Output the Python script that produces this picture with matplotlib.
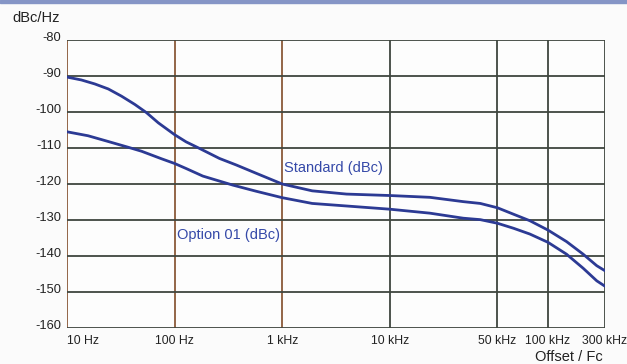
import numpy as np
import matplotlib
matplotlib.use("Agg")
import matplotlib.pyplot as plt
from matplotlib.patches import Rectangle
from matplotlib.transforms import ScaledTranslation

plt.rcParams['font.family'] = ['Liberation Sans', 'DejaVu Sans']

# tick frequencies (Hz) and their labels; the axis is a stretched log axis
tick_freqs = [10, 100, 1000, 10000, 50000, 100000, 300000]
tick_labels = ['10 Hz', '100 Hz', '1 kHz', '10 kHz', '50 kHz', '100 kHz', '300 kHz']
tick_pos = [0, 1, 2, 3, 4, 4.47, 5]
y_ticks = [-80, -90, -100, -110, -120, -130, -140, -150, -160]

# phase noise curves
std_freq = [10, 13.6, 18.1, 24.2, 32.1, 42.7, 54.9, 70.5, 100, 128, 170, 261, 373,
            571, 1000, 1900, 3960, 10000, 18200, 30000, 38700, 50000, 62400,
            78000, 100000, 143000, 197000, 256000, 300000]
std_dbc = [-90.3, -91.1, -92.2, -93.6, -95.6, -97.9, -100.2, -103.0, -106.3, -108.3,
           -110.1, -112.9, -114.7, -117, -120, -121.9, -122.8, -123.2, -123.7,
           -124.9, -125.4, -126.6, -128.4, -130.2, -132.8, -136, -139.5, -142.7, -144.1]

opt_freq = [10, 15.7, 24.2, 37.1, 49.3, 75.7, 100, 128, 183, 347, 571, 1000, 1900,
            10000, 18200, 30000, 38700, 50000, 62400, 78000, 100000, 143000,
            197000, 256000, 300000]
opt_dbc = [-105.5, -106.6, -108.2, -109.8, -110.9, -113.0, -114.3, -115.7, -117.8,
           -120.3, -122, -123.8, -125.4, -127.0, -128.1, -129.5, -129.9, -130.9,
           -132.3, -133.9, -136.2, -139.5, -143.4, -146.9, -148.4]

log_ticks = np.log10(tick_freqs)


def fwd(f):
    f = np.clip(np.asarray(f, dtype=float), 1e-3, None)
    return np.interp(np.log10(f), log_ticks, tick_pos)


def inv(p):
    return 10 ** np.interp(p, tick_pos, log_ticks)


fig = plt.figure(figsize=(6.27, 3.64), dpi=100, facecolor='#fbfbfb')
fig.patches.append(Rectangle((0, 0.992), 1, 0.008, transform=fig.transFigure,
                             color='#8595c6', zorder=0))
ax = fig.add_axes([67 / 627, 1 - 328 / 364, (605 - 67) / 627, (328 - 40) / 364])
ax.set_facecolor('#fdfdfd')
ax.set_xscale('function', functions=(fwd, inv))
ax.set_xlim(10, 300000)
ax.set_ylim(-160, -80)

grid_dark = '#3f463f'
grid_brown = '#8a5a3a'
for f in tick_freqs:
    col = grid_brown if f <= 1000 else grid_dark
    ax.axvline(f, color=col, lw=1.3, zorder=1)
for y in y_ticks:
    ax.axhline(y, color=grid_dark, lw=1.3, zorder=1)
for s in ax.spines.values():
    s.set_visible(False)

line_col = '#2c3a94'
ax.plot(std_freq, std_dbc, color=line_col, lw=2.0, zorder=3,
        solid_capstyle='round', solid_joinstyle='round')
ax.plot(opt_freq, opt_dbc, color=line_col, lw=2.0, zorder=3,
        solid_capstyle='round', solid_joinstyle='round')

ax.set_xticks(tick_freqs)
ax.set_xticklabels(tick_labels, fontsize=8.8)
ax.xaxis.get_ticklabels()[0].set_horizontalalignment('left')
last = ax.xaxis.get_ticklabels()[-1]
last.set_transform(last.get_transform() + ScaledTranslation(-4 / 100, 0, fig.dpi_scale_trans))
ax.set_yticks(y_ticks)
ax.set_yticklabels([str(v) for v in y_ticks], fontsize=9.3)
ax.tick_params(length=0, pad=4, colors='#222222')
ax.tick_params(axis='x', pad=5)
shift = ScaledTranslation(0, 3.5 / 100, fig.dpi_scale_trans)
for lab in ax.get_yticklabels():
    lab.set_transform(lab.get_transform() + shift)

ax.text(1040, -115.6, 'Standard (dBc)', color='#3549a8', fontsize=10.5,
        ha='left', va='center', zorder=4)
ax.text(105, -134.2, 'Option 01 (dBc)', color='#3549a8', fontsize=10.5,
        ha='left', va='center', zorder=4)

fig.text(12 / 627, 1 - 18 / 364, 'dBc/Hz', fontsize=10.5, color='#222222',
         ha='left', va='center')
fig.text(569 / 627, 1 - 357 / 364, 'Offset / Fc', fontsize=10.5, color='#222222',
         ha='center', va='center')

fig.savefig('out.png', dpi=100, facecolor=fig.get_facecolor())
